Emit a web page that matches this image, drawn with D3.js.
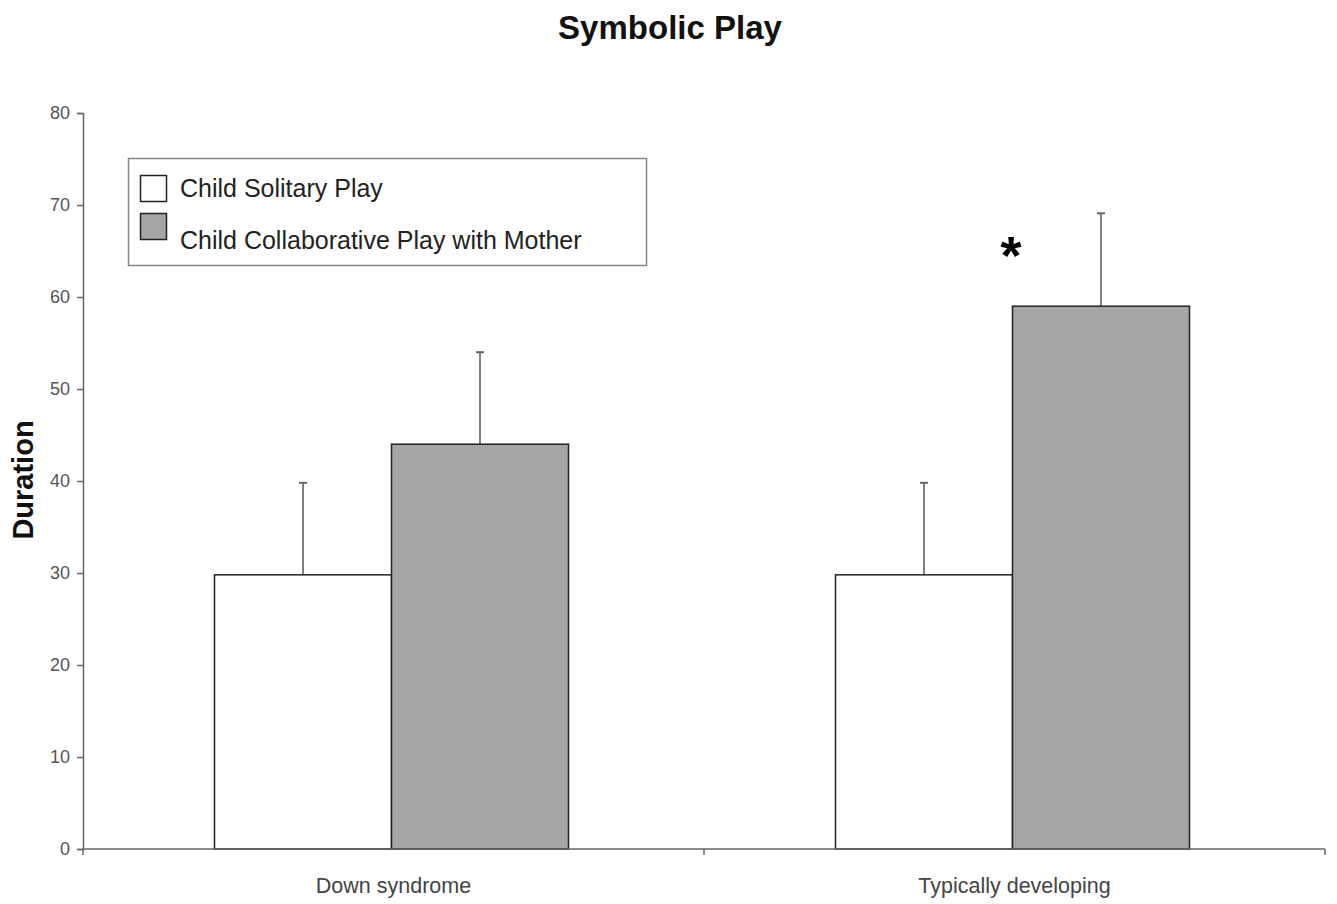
<!DOCTYPE html>
<html>
<head>
<meta charset="utf-8">
<script src="https://cdn.jsdelivr.net/npm/d3@7"></script>
<style>
  body { margin: 0; background: #fff; }
  text { font-family: "Liberation Sans", Arial, sans-serif; }
</style>
</head>
<body>
<div id="chart"></div>
<script>
// data
const groups = ["Down syndrome", "Typically developing"];
const seriesNames = ["Child Solitary Play", "Child Collaborative Play with Mother"];
const solitary = [29.8, 29.8];
const collaborative = [44, 59];
const solitaryErr = [10, 10];
const collaborativeErr = [10, 10.1];
const yTicks = [0, 10, 20, 30, 40, 50, 60, 70, 80];
const seriesColors = ["#ffffff", "#a6a6a6"];

const width = 1337, height = 904;
const margin = { top: 113, right: 12, bottom: 55, left: 83 };
const innerWidth = width - margin.left - margin.right;
const innerHeight = height - margin.top - margin.bottom;

const svg = d3.select("#chart").append("svg")
    .attr("width", width)
    .attr("height", height);

const g = svg.append("g")
    .attr("transform", `translate(${margin.left},${margin.top})`);

// scales
const x = d3.scaleBand().domain(groups).range([0, innerWidth]).padding(0);
const y = d3.scaleLinear().domain([0, 80]).range([innerHeight, 0]);
const barW = 177;

const rows = [];
groups.forEach((grp, i) => {
    rows.push({ grp, s: 0, v: solitary[i], e: solitaryErr[i] });
    rows.push({ grp, s: 1, v: collaborative[i], e: collaborativeErr[i] });
});
const barX = d => x(d.grp) + x.bandwidth() / 2 - 2 + (d.s - 1) * barW;

// error bars (drawn first, bar top covers stem base)
g.selectAll(".err").data(rows).join("line")
    .attr("x1", d => barX(d) + barW / 2).attr("x2", d => barX(d) + barW / 2)
    .attr("y1", d => y(d.v)).attr("y2", d => y(d.v + d.e))
    .attr("stroke", "#808080").attr("stroke-width", 2);
g.selectAll(".cap").data(rows).join("line")
    .attr("x1", d => barX(d) + barW / 2 - 4).attr("x2", d => barX(d) + barW / 2 + 4)
    .attr("y1", d => y(d.v + d.e)).attr("y2", d => y(d.v + d.e))
    .attr("stroke", "#666").attr("stroke-width", 2);

// bars
g.selectAll(".bar").data(rows).join("rect")
    .attr("x", d => barX(d))
    .attr("y", d => y(d.v))
    .attr("width", barW)
    .attr("height", d => innerHeight - y(d.v))
    .attr("fill", d => seriesColors[d.s])
    .attr("stroke", "#222").attr("stroke-width", 1.5);

// y axis
const yAxis = g.append("g")
    .call(d3.axisLeft(y).tickValues(yTicks).tickSize(6).tickPadding(7));
yAxis.select(".domain").attr("stroke", "#666").attr("stroke-width", 1.5);
yAxis.selectAll(".tick line").attr("stroke", "#666").attr("stroke-width", 1.5);
yAxis.selectAll(".tick text").attr("fill", "#555").style("font-size", "18px");

// x axis with boundary ticks
const xAxisG = g.append("g").attr("transform", `translate(0,${innerHeight})`);
xAxisG.append("line").attr("x1", 0).attr("x2", innerWidth)
    .attr("stroke", "#666").attr("stroke-width", 1.5);
const bounds = [0, ...groups.map(d => x(d) + x.bandwidth())];
xAxisG.selectAll(".xt").data(bounds).join("line")
    .attr("x1", d => d).attr("x2", d => d).attr("y1", 0).attr("y2", 6)
    .attr("stroke", "#666").attr("stroke-width", 1.5);
xAxisG.selectAll(".xl").data(groups).join("text")
    .attr("x", d => x(d) + x.bandwidth() / 2)
    .attr("y", 44)
    .attr("text-anchor", "middle")
    .attr("fill", "#444")
    .style("font-size", "21.5px")
    .text(d => d);

// significance marker
svg.append("text")
    .attr("x", 1011).attr("y", 274)
    .attr("text-anchor", "middle")
    .style("font-size", "54px").style("font-weight", "bold")
    .text("*");

// title
svg.append("text")
    .attr("x", 670).attr("y", 39)
    .attr("text-anchor", "middle")
    .style("font-size", "33px").style("font-weight", "bold")
    .attr("fill", "#111")
    .text("Symbolic Play");

// y label
svg.append("text")
    .attr("transform", "translate(33,480) rotate(-90)")
    .attr("text-anchor", "middle")
    .style("font-size", "29px").style("font-weight", "bold")
    .attr("fill", "#111")
    .text("Duration");

// legend
const legend = svg.append("g");
legend.append("rect")
    .attr("x", 128.5).attr("y", 158.5).attr("width", 518).attr("height", 107)
    .attr("fill", "#fff").attr("stroke", "#888").attr("stroke-width", 1.5);
const legY = [175, 213];
const legTextY = [197, 249];
seriesNames.forEach((name, i) => {
    legend.append("rect")
        .attr("x", 140.5).attr("y", legY[i] + 0.5).attr("width", 26).attr("height", 26)
        .attr("fill", seriesColors[i]).attr("stroke", "#222").attr("stroke-width", 1.5);
    legend.append("text")
        .attr("x", 180).attr("y", legTextY[i])
        .style("font-size", "25px").attr("fill", "#222")
        .text(name);
});
</script>
</body>
</html>
